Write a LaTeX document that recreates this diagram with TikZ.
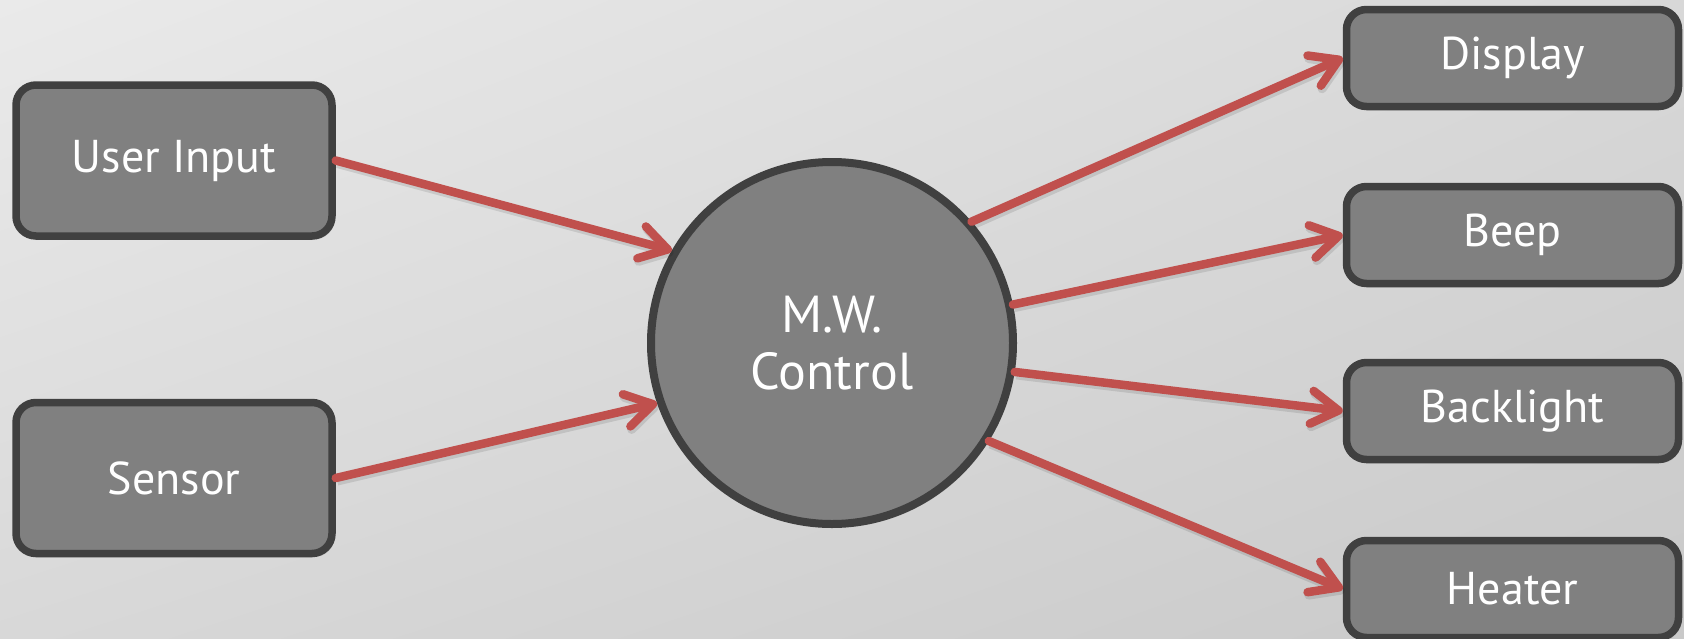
\documentclass[tikz,border=0pt]{standalone}
\usepackage{fontspec}
\setmainfont{PT Sans}
\usetikzlibrary{arrows.meta,shadings}
\definecolor{bgUL}{HTML}{EAEAEA}
\definecolor{bgUR}{HTML}{D8D8D8}
\definecolor{bgLL}{HTML}{D8D8D8}
\definecolor{bgLR}{HTML}{C9C9C9}
\definecolor{boxline}{HTML}{404040}
\definecolor{boxfill}{HTML}{808080}
\definecolor{arrowred}{HTML}{C0504D}
\begin{document}
\begin{tikzpicture}[x=1pt,y=-1pt,
  softshadow/.style={preaction={fill=black, opacity=0.08, transform canvas={shift={(2.5pt,-3.5pt)}}}},
  box/.style={draw=boxline, fill=boxfill, line width=7.5pt, rounded corners=20pt,
    text=white, font=\fontsize{46}{52}\selectfont, softshadow},
  inbox/.style={box, minimum width=316pt, minimum height=151pt},
  outbox/.style={box, minimum width=332pt, minimum height=97pt},
  ctrl/.style={circle, draw=boxline, fill=boxfill, line width=8pt, minimum size=362pt,
    text=white, align=center, font=\fontsize{52}{57}\selectfont, softshadow},
  flow/.style={draw=arrowred, line width=8.5pt, line cap=round,
    -{Straight Barb[length=27pt,width=33pt,round]},
    preaction={draw=black, opacity=0.10, line width=9pt,
      transform canvas={shift={(1.5pt,-3pt)}}}}
]
\useasboundingbox (0,0) rectangle (1684,638);
\begin{scope}[y=1pt]
  \shade[upper left=bgUL, upper right=bgUR, lower left=bgLL, lower right=bgLR]
    (0,-638) rectangle (1684,0);
\end{scope}

\node[inbox] (ui) at (174,160.5) {User Input};
\node[inbox] (sensor) at (174,478) {Sensor};
\node[ctrl] (mw) at (832,343) {M.W.\\Control};
\node[outbox] (display) at (1512.5,58) {Display};
\node[outbox] (beep) at (1512.5,235) {Beep};
\node[outbox] (backlight) at (1512.5,411) {Backlight};
\node[outbox] (heater) at (1512.5,589) {Heater};

\draw[flow] (ui.east) -- (mw.150.5);
\draw[flow] (sensor.east) -- (mw.199.5);
\draw[flow] (mw.41.7) -- (display.west);
\draw[flow] (mw.12) -- (beep.west);
\draw[flow] (mw.-9.6) -- (backlight.west);
\draw[flow] (mw.-32) -- (heater.west);
\end{tikzpicture}
\end{document}
